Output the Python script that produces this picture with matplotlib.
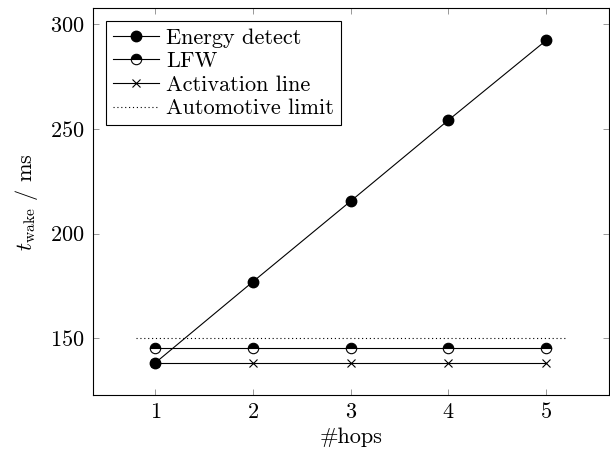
import matplotlib
matplotlib.use("Agg")
import matplotlib.pyplot as plt

# data
hops = [1, 2, 3, 4, 5]
energy_detect = [138.2, 177.0, 215.5, 254.2, 292.3]
lfw = [145.2, 145.2, 145.2, 145.2, 145.2]
activation_line = [138.2, 138.2, 138.2, 138.2, 138.2]
limit_x = [0.8, 5.2]
limit_y = [150, 150]

plt.rcParams['font.family'] = ['cmr10', 'DejaVu Serif']
plt.rcParams['mathtext.fontset'] = 'cm'
plt.rcParams['axes.formatter.use_mathtext'] = True

fs = 16

fig = plt.figure(figsize=(6.1, 4.51), dpi=100)
ax = fig.add_axes([0.152, 0.124, 0.846, 0.858])

ax.plot(hops, energy_detect, color='black', lw=0.8, marker='o', ms=7.5,
        label='Energy detect')
ax.plot(hops, lfw, color='black', lw=0.8, marker='o', ms=7.5, fillstyle='top',
        markerfacecolor='black', markerfacecoloralt='white', markeredgecolor='black',
        markeredgewidth=0.8, label='LFW')
ax.plot(hops, activation_line, color='black', lw=0.8, marker='x', ms=5.5,
        markeredgewidth=0.8, label='Activation line')
ax.plot(limit_x, limit_y, color='black', lw=0.8, linestyle=(0, (1, 2.5)),
        label='Automotive limit')

ax.set_xlim(0.36, 5.64)
ax.set_ylim(122.8, 307.7)
ax.set_xticks(hops)
ax.set_yticks([150, 200, 250, 300])
ax.tick_params(direction='in', length=4.5, width=0.6, color='#888888',
               labelsize=fs, top=True, right=True, pad=6)
ax.tick_params(axis='x', pad=5)
for s in ax.spines.values():
    s.set_linewidth(0.8)

ax.set_xlabel('#hops', fontsize=fs, labelpad=4)
ax.set_ylabel(r'$t_{\mathrm{wake}}$ / ms', fontsize=fs, labelpad=7)

leg = ax.legend(loc='upper left', fontsize=fs, frameon=True, fancybox=False,
                edgecolor='black', framealpha=1, handlelength=2.1,
                handletextpad=0.3, labelspacing=0.18, borderpad=0.3,
                borderaxespad=0.6)
leg.get_frame().set_linewidth(0.8)

fig.savefig('out.png', dpi=100)
